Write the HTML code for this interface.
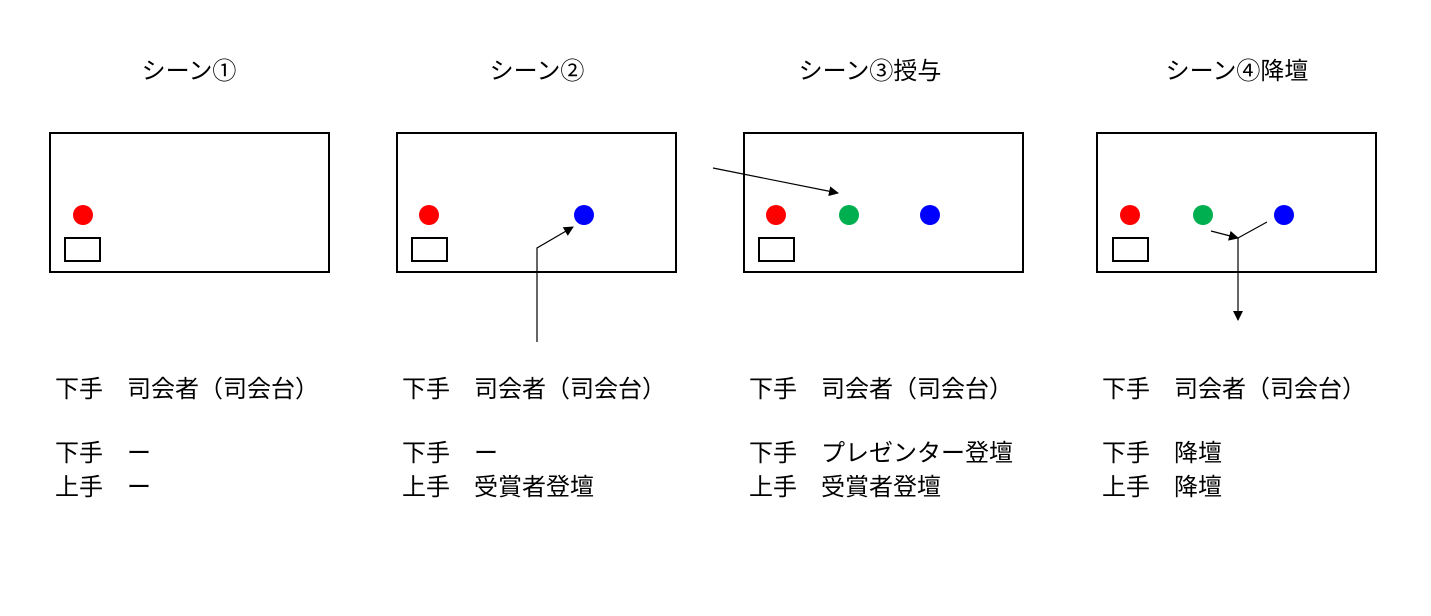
<!DOCTYPE html>
<html><head><meta charset="utf-8"><style>
html,body{margin:0;padding:0;background:#fff;}
svg{display:block;}
text{font-family:"Liberation Sans","Noto Sans CJK JP",sans-serif;fill:#000;}
</style></head><body>
<svg width="1431" height="616" viewBox="0 0 1431 616" xmlns="http://www.w3.org/2000/svg">
<defs>
<marker id="ah" markerWidth="10" markerHeight="10" refX="9" refY="5" orient="auto" markerUnits="userSpaceOnUse">
<path d="M0,0 L10,5 L0,10 z" fill="#000"/></marker>
</defs>
<g font-size="24" text-anchor="middle">
<text x="189" y="79">シーン①</text>
<text x="537" y="79">シーン②</text>
<text x="870" y="79">シーン③授与</text>
<text x="1237" y="79">シーン④降壇</text>
</g>
<g fill="none" stroke="#000" stroke-width="2">
<rect x="50" y="133" width="279" height="139"/>
<rect x="397" y="133" width="279" height="139"/>
<rect x="744" y="133" width="279" height="139"/>
<rect x="1097" y="133" width="279" height="139"/>
<rect x="65" y="238" width="35" height="23"/>
<rect x="412" y="238" width="35" height="23"/>
<rect x="759" y="238" width="35" height="23"/>
<rect x="1113" y="238" width="35" height="23"/>
</g>
<circle cx="83" cy="215" r="10" fill="#f00"/>
<circle cx="429" cy="215" r="10" fill="#f00"/>
<circle cx="584" cy="215" r="10" fill="#00f"/>
<circle cx="776" cy="215" r="10" fill="#f00"/>
<circle cx="849" cy="215" r="10" fill="#00b050"/>
<circle cx="930" cy="215" r="10" fill="#00f"/>
<circle cx="1130" cy="215" r="10" fill="#f00"/>
<circle cx="1203" cy="215" r="10" fill="#00b050"/>
<circle cx="1284" cy="215" r="10" fill="#00f"/>
<g stroke="#000" stroke-width="1.2" fill="none">
<polyline points="537,342 537,248 573,227" marker-end="url(#ah)"/>
<line x1="713" y1="168" x2="838" y2="193" marker-end="url(#ah)"/>
<line x1="1211" y1="231" x2="1238" y2="238" marker-end="url(#ah)"/>
<line x1="1267" y1="222" x2="1238" y2="238"/>
<line x1="1238" y1="238" x2="1238" y2="320" marker-end="url(#ah)"/>
</g>
<g font-size="24">
<text x="55" y="397">下手　司会者（司会台）</text>
<text x="55" y="461">下手　ー</text>
<text x="55" y="495">上手　ー</text>
<text x="402" y="397">下手　司会者（司会台）</text>
<text x="402" y="461">下手　ー</text>
<text x="402" y="495">上手　受賞者登壇</text>
<text x="749" y="397">下手　司会者（司会台）</text>
<text x="749" y="461">下手　プレゼンター登壇</text>
<text x="749" y="495">上手　受賞者登壇</text>
<text x="1102" y="397">下手　司会者（司会台）</text>
<text x="1102" y="461">下手　降壇</text>
<text x="1102" y="495">上手　降壇</text>
</g>
</svg>
</body></html>
